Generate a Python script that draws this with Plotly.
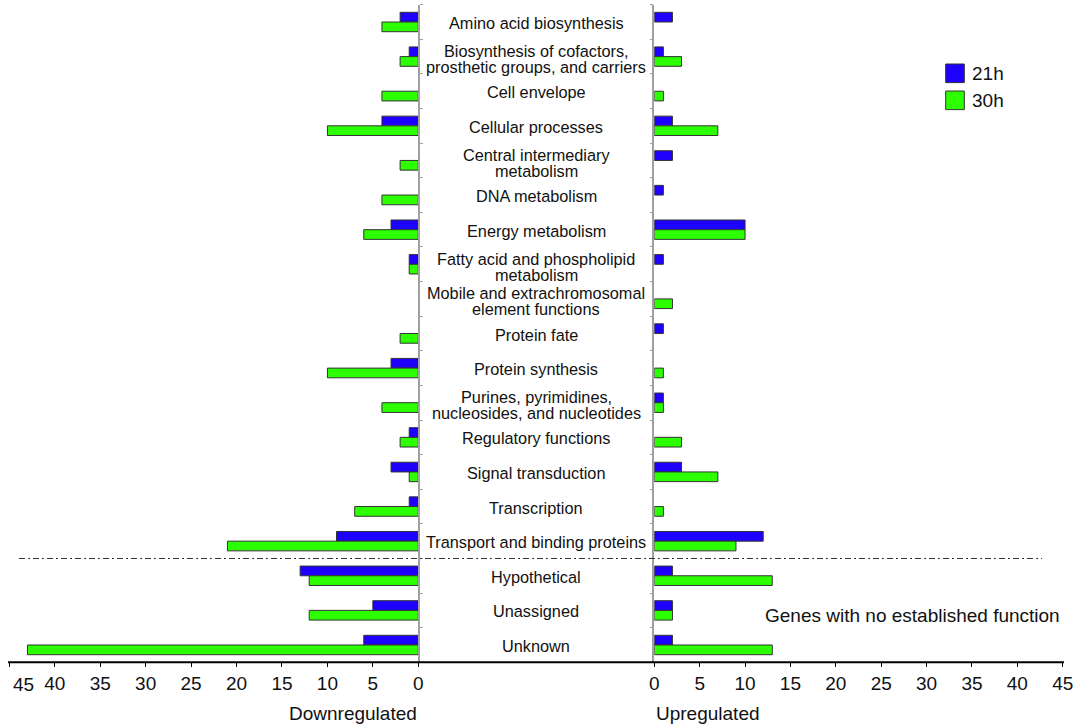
import plotly.graph_objects as go

# Functional role categories (top to bottom); "\n" marks a wrapped label
categories = [
    "Amino acid biosynthesis",
    "Biosynthesis of cofactors,\nprosthetic groups, and carriers",
    "Cell envelope",
    "Cellular processes",
    "Central intermediary\nmetabolism",
    "DNA metabolism",
    "Energy metabolism",
    "Fatty acid and phospholipid\nmetabolism",
    "Mobile and extrachromosomal\nelement functions",
    "Protein fate",
    "Protein synthesis",
    "Purines, pyrimidines,\nnucleosides, and nucleotides",
    "Regulatory functions",
    "Signal transduction",
    "Transcription",
    "Transport and binding proteins",
    "Hypothetical",
    "Unassigned",
    "Unknown",
]

# Number of genes per category
down_21h = [2, 1, 0, 4, 0, 0, 3, 1, 0, 0, 3, 0, 1, 3, 1, 9, 13, 5, 6]
down_30h = [4, 2, 4, 10, 2, 4, 6, 1, 0, 2, 10, 4, 2, 1, 7, 21, 12, 12, 43]
up_21h = [2, 1, 0, 2, 2, 1, 10, 1, 0, 1, 0, 1, 0, 3, 0, 12, 2, 2, 2]
up_30h = [0, 3, 1, 7, 0, 0, 10, 0, 2, 0, 1, 1, 3, 7, 1, 9, 13, 2, 13]

series_names = ["21h", "30h"]
tick_vals = [0, 5, 10, 15, 20, 25, 30, 35, 40, 45]

BLUE = "#1e00ff"
GREEN = "#2bff00"
FONT = "Liberation Sans, Arial, sans-serif"
W, H = 1074, 725


def px_x(p):
    return p / W


def px_y(p):
    return 1 - p / H


def blank_zero(vals):
    return [v if v else None for v in vals]


fig = go.Figure()
for vals, name, color in [(down_21h, series_names[0], BLUE), (down_30h, series_names[1], GREEN)]:
    fig.add_trace(go.Bar(
        y=categories, x=blank_zero(vals), orientation="h", name=name,
        marker=dict(color=color, line=dict(color="#333333", width=1)),
        xaxis="x", yaxis="y", showlegend=False,
    ))
for vals, name, color in [(up_21h, series_names[0], BLUE), (up_30h, series_names[1], GREEN)]:
    fig.add_trace(go.Bar(
        y=categories, x=blank_zero(vals), orientation="h", name=name,
        marker=dict(color=color, line=dict(color="#333333", width=1)),
        xaxis="x2", yaxis="y2", showlegend=False,
    ))

y_dom = [px_y(662.3), px_y(4.7)]
# The outermost left label sits inside the page edge, so it is placed separately
left_ticktext = [str(v) for v in tick_vals[:-1]] + [""]

xaxis_common = dict(
    tickvals=tick_vals, ticks="outside", ticklen=4, tickcolor="#000000",
    showline=False, showgrid=False, zeroline=False, automargin=False,
    tickfont=dict(family=FONT, size=19, color="#111111"),
    ticklabelstandoff=0, ticklabeloverflow="allow",
)
yaxis_common = dict(
    type="category", categoryorder="array", categoryarray=categories,
    range=[18.5, -0.5], domain=y_dom, automargin=False,
    showline=True, linecolor="#a0a0a0", linewidth=1.5,
    ticks="outside", tickson="boundaries", ticklen=3, tickcolor="#a0a0a0",
    showticklabels=False, showgrid=False, zeroline=False,
)

fig.update_layout(
    template="none",
    width=W, height=H,
    margin=dict(l=0, r=0, t=0, b=0, autoexpand=False),
    paper_bgcolor="white", plot_bgcolor="white",
    barmode="group", bargap=0.44, bargroupgap=0,
    showlegend=False,
    font=dict(family=FONT, color="#111111"),
    xaxis=dict(domain=[px_x(9.3), px_x(418.3)], range=[45, 0], anchor="y",
               ticktext=left_ticktext, **xaxis_common),
    xaxis2=dict(domain=[px_x(654.3), px_x(1062.7)], range=[0, 45], anchor="y2",
                ticktext=[str(v) for v in tick_vals], **xaxis_common),
    yaxis=dict(anchor="x", side="right", **yaxis_common),
    yaxis2=dict(anchor="x2", side="left", **yaxis_common),
)

fig.add_annotation(x=px_x(11), y=px_y(684), xref="paper", yref="paper",
                   text=str(tick_vals[-1]), showarrow=False,
                   xanchor="left", yanchor="middle",
                   font=dict(family=FONT, size=19, color="#111111"))

# Category names in the central column
center_x = px_x(536)
for cat in categories:
    lines = cat.split("\n")
    if len(lines) == 1:
        offsets = [-1]
    else:
        offsets = [5.5, -10.5]
    for line, dy in zip(lines, offsets):
        fig.add_annotation(
            x=center_x, xref="paper", y=cat, yref="y",
            text=line, showarrow=False, yshift=dy,
            xanchor="center", yanchor="middle",
            font=dict(family=FONT, size=16.3, color="#111111"),
        )

# Separator between assigned roles and genes without established function
fig.add_shape(type="line", xref="paper", yref="y",
              x0=px_x(19), x1=px_x(1042), y0=15.5, y1=15.5,
              line=dict(color="#333333", width=1, dash="6px,3px,2px,3px"))

# Common baseline across both panels
fig.add_shape(type="line", xref="paper", yref="paper",
              x0=px_x(8), x1=px_x(1064), y0=y_dom[0], y1=y_dom[0],
              line=dict(color="#000000", width=2))

# Legend boxes and labels
for i, (name, color) in enumerate(zip(series_names, [BLUE, GREEN])):
    top = 64 + i * 27
    fig.add_shape(type="rect", xref="paper", yref="paper",
                  x0=px_x(945.7), x1=px_x(964.3), y0=px_y(top + 18.6), y1=px_y(top),
                  fillcolor=color, line=dict(color="#333333", width=1))
    fig.add_annotation(x=px_x(970), y=px_y(top + 9.5), xref="paper", yref="paper",
                       text=name, showarrow=False, xanchor="left", yanchor="middle",
                       font=dict(family=FONT, size=19, color="#111111"))

fig.add_annotation(x=px_x(1062), y=px_y(615), xref="paper", yref="paper",
                   text="Genes with no established function", showarrow=False,
                   xanchor="right", yanchor="middle",
                   font=dict(family=FONT, size=19, color="#111111"))

fig.add_annotation(x=px_x(418.5), y=px_y(713), xref="paper", yref="paper",
                   text="Downregulated", showarrow=False,
                   xanchor="right", yanchor="middle",
                   font=dict(family=FONT, size=19, color="#111111"))
fig.add_annotation(x=px_x(654), y=px_y(713), xref="paper", yref="paper",
                   text="Upregulated", showarrow=False,
                   xanchor="left", yanchor="middle",
                   font=dict(family=FONT, size=19, color="#111111"))

fig.write_html("out.html")
